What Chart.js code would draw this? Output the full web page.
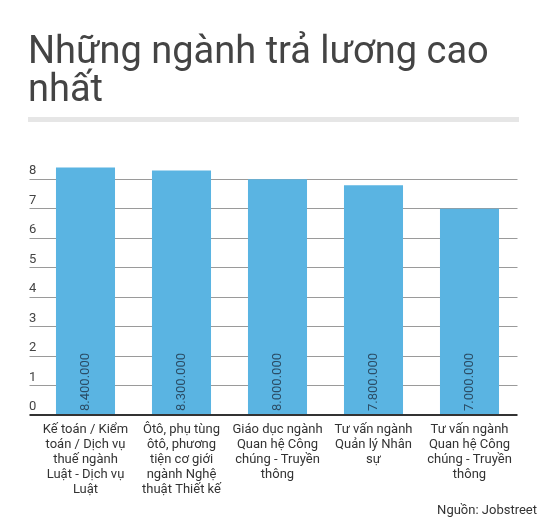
<!DOCTYPE html>
<html>
<head>
<meta charset="utf-8">
<script src="https://cdn.jsdelivr.net/npm/chart.js@4"></script>
<style>
  html, body { margin: 0; padding: 0; background: #fff; }
  body { width: 544px; height: 521px; position: relative; overflow: hidden; font-family: Roboto, "Noto Sans", sans-serif; }
  #title { position: absolute; left: 28px; top: 31px; font-size: 38px; line-height: 38px; color: #444; font-weight: 400; width: 500px; }
  #sep { position: absolute; left: 28px; top: 117px; width: 491px; height: 5px; background: #e6e6e6; }
  #src { position: absolute; right: 7px; top: 501px; font-size: 13px; line-height: 17px; color: #333; }
  #wrap { position: absolute; left: 0; top: 0; width: 544px; height: 521px; }
</style>
</head>
<body>
<div id="wrap"><canvas id="c" width="544" height="521"></canvas></div>
<div id="title">Những ngành trả lương cao<br>nhất</div>
<div id="sep"></div>
<div id="src">Nguồn: Jobstreet</div>
<script>
const categories = [
  ["Kế toán / Kiểm", "toán / Dịch vụ", "thuế ngành", "Luật - Dịch vụ", "Luật"],
  ["Ôtô, phụ tùng", "ôtô, phương", "tiện cơ giới", "ngành Nghệ", "thuật Thiết kế"],
  ["Giáo dục ngành", "Quan hệ Công", "chúng - Truyền", "thông"],
  ["Tư vấn ngành", "Quản lý Nhân", "sự"],
  ["Tư vấn ngành", "Quan hệ Công", "chúng - Truyền", "thông"]
];
const salaries = [8.4, 8.3, 8.0, 7.8, 7.0];
const valueLabels = ["8.400.000", "8.300.000", "8.000.000", "7.800.000", "7.000.000"];
const yTicks = [0, 1, 2, 3, 4, 5, 6, 7, 8];

const barLabelPlugin = {
  id: 'barLabels',
  afterDatasetsDraw(chart) {
    const ctx = chart.ctx;
    const meta = chart.getDatasetMeta(0);
    ctx.save();
    ctx.font = '13px Roboto';
    ctx.fillStyle = '#2b4d66';
    ctx.textAlign = 'left';
    ctx.textBaseline = 'middle';
    meta.data.forEach((bar, i) => {
      ctx.save();
      ctx.translate(bar.x, bar.base - 3);
      ctx.rotate(-Math.PI / 2);
      ctx.fillText(valueLabels[i], 0, 0);
      ctx.restore();
    });
    ctx.restore();
  }
};

new Chart(document.getElementById('c'), {
  type: 'bar',
  data: {
    labels: categories,
    datasets: [{
      data: salaries,
      backgroundColor: '#5ab4e2',
      borderWidth: 0,
      categoryPercentage: 1,
      barPercentage: 0.615
    }]
  },
  options: {
    responsive: false,
    animation: false,
    devicePixelRatio: 1,
    layout: { padding: { left: 29, right: 26.5, top: 164.5, bottom: 17 } },
    plugins: { legend: { display: false }, tooltip: { enabled: false }, title: { display: false } },
    scales: {
      x: {
        grid: { display: false, drawTicks: false },
        border: { display: false },
        ticks: {
          color: '#333',
          font: { family: 'Roboto', size: 13, lineHeight: 15 / 13 },
          padding: 7,
          maxRotation: 0,
          autoSkip: false
        }
      },
      y: {
        min: 0,
        max: 8.5,
        afterFit: s => { s.width = 8.5; },
        afterBuildTicks: s => { s.ticks = yTicks.map(v => ({ value: v })); },
        border: { display: false },
        grid: {
          drawTicks: true,
          tickLength: 8,
          color: c => (c.tick && c.tick.value === 0) ? '#333' : '#9a9a9a',
          lineWidth: c => (c.tick && c.tick.value === 0) ? 2 : 1
        },
        ticks: {
          crossAlign: 'far',
          padding: 0,
          labelOffset: -8,
          color: '#444',
          font: { family: 'Roboto', size: 13 },
          callback: v => String(v)
        }
      }
    }
  },
  plugins: [barLabelPlugin]
});
</script>
</body>
</html>
